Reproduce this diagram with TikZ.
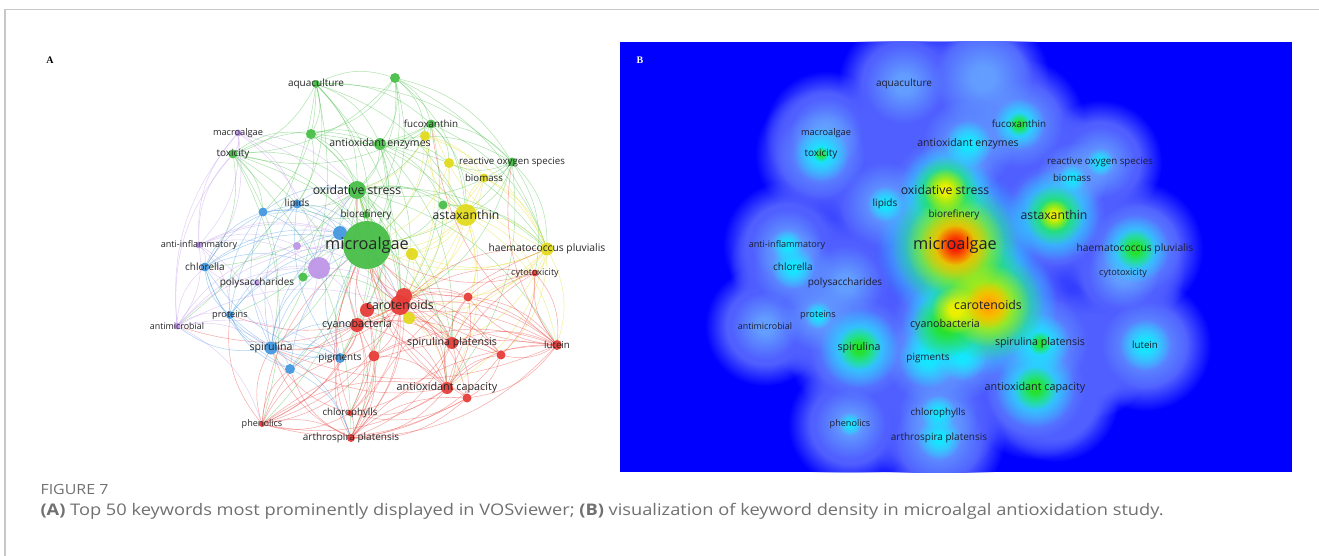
\documentclass[tikz,border=0pt]{standalone}
\usepackage{fontspec}
\setmainfont{Open Sans}
\newfontfamily\panelfont{Liberation Serif}
\newfontfamily\capfont[FakeStretch=1.14]{Open Sans}
\usetikzlibrary{fadings}

% cluster colours of the network
\definecolor{kred}{RGB}{231,60,56}
\definecolor{kgreen}{RGB}{72,190,72}
\definecolor{kblue}{RGB}{66,152,224}
\definecolor{kyellow}{RGB}{226,218,30}
\definecolor{kpurple}{RGB}{190,150,232}
% density colours
\definecolor{dblue}{RGB}{0,0,255}
\definecolor{dhaloA}{RGB}{80,95,255}
\definecolor{dhaloB}{RGB}{100,160,255}
\definecolor{dcyan}{RGB}{20,232,255}
\definecolor{dgreen}{RGB}{40,225,40}
\definecolor{dyellow}{RGB}{240,240,0}
\definecolor{dorange}{RGB}{255,165,0}
\definecolor{dred}{RGB}{245,25,0}
\definecolor{framegray}{RGB}{200,200,200}
\definecolor{capgray}{RGB}{112,112,112}
\definecolor{maptext}{RGB}{30,30,50}

% soft spots for the density map
\pgfdeclareradialshading{softshade}{\pgfpointorigin}{color(0bp)=(pgftransparent!0); color(6bp)=(pgftransparent!5); color(25bp)=(pgftransparent!100); color(50bp)=(pgftransparent!100)}
\pgfdeclarefading{soft}{\pgfuseshading{softshade}}
\pgfdeclareradialshading{wideshade}{\pgfpointorigin}{color(0bp)=(pgftransparent!0); color(16bp)=(pgftransparent!0); color(25bp)=(pgftransparent!100); color(50bp)=(pgftransparent!100)}
\pgfdeclarefading{wide}{\pgfuseshading{wideshade}}

\tikzset{
  dot/.style={circle, inner sep=0pt, minimum size=#1, fill opacity=.95},
  kw/.style={inner sep=0pt, text=black!85},
  link/.style={line width=.55pt, draw opacity=.42, bend left=22},
  blob/.style={fill=#1, path fading=soft},
  halo/.style={fill=#1, path fading=wide},
}
\pgfdeclarelayer{edges}
\pgfsetlayers{edges,main}

% name/x/y/diameter/colour/font size/label
\def\keywords{%
  aqu/316/84/8/kgreen/10/aquaculture,
  fuc/431/124/9/kgreen/9.8/fucoxanthin,
  mac/238/133/7/kpurple/9.2/macroalgae,
  tox/233/154/9/kgreen/10/toxicity,
  aoe/380/144/12/kgreen/10.5/antioxidant enzymes,
  ros/512/162/9/kgreen/9.7/reactive oxygen species,
  bms/484/178/9/kyellow/9.7/biomass,
  oxs/357/190/18/kgreen/12.3/oxidative stress,
  lip/297/204/9/kblue/10/lipids,
  brf/366/215/7/kgreen/10/biorefinery,
  ast/466/215/22/kyellow/12.2/astaxanthin,
  ain/199/245/7/kpurple/9.1/anti-inflammatory,
  mic/367/245/48/kgreen/16.3/microalgae,
  hae/547/249/13/kyellow/10.3/haematococcus pluvialis,
  clo/205/267/9/kblue/10/chlorella,
  cyt/535/273/7/kred/9.1/cytotoxicity,
  pol/257/283/6/kpurple/10/polysaccharides,
  car/400/305/20/kred/12.3/carotenoids,
  pro/230/315/8/kblue/9.2/proteins,
  amb/177/326/7/kpurple/8.9/antimicrobial,
  cya/357/325/14/kred/10.7/cyanobacteria,
  spp/452/343/12/kred/10.6/spirulina platensis,
  lut/557/345/10/kred/9.7/lutein,
  spi/271/348/13/kblue/10.6/spirulina,
  pig/340/358/10/kblue/9.9/pigments,
  aoc/447/388/12/kred/10.8/antioxidant capacity,
  chl/350/413/6/kred/9.7/chlorophylls,
  phe/262/424/6/kred/9.1/phenolics,
  art/351/438/8/kred/10/arthrospira platensis}
% items whose labels are hidden
\def\unlabelled{%
  g1/395/78/10/kgreen, g2/311/134/10/kgreen, y1/425/136/10/kyellow,
  y2/449/163/10/kyellow, g3/443/205/9/kgreen, b1/263/212/9/kblue,
  b2/340/233/14/kblue, p1/297/246/8/kpurple, p2/319/268/22/kpurple,
  g4/303/277/9/kgreen, y3/412/254/12/kyellow, r1/404/296/16/kred,
  r2/367/310/14/kred, y4/409/318/12/kyellow, r3/374/356/11/kred,
  b3/290/369/10/kblue, r4/501/355/9/kred, r5/467/398/9/kred,
  r6/468/297/9/kred}

\begin{document}
\begin{tikzpicture}[x=1pt, y=-1pt]
\useasboundingbox (0,0) rectangle (1319,556);
\draw[framegray, line width=1.2pt] (5,556) -- (5,9.5) -- (1319,9.5);

%% (A) network
\node[font=\panelfont\bfseries\fontsize{10}{10}\selectfont] (pa) at (50,60) {A};

\foreach \n/\x/\y/\d/\c in \unlabelled
  \node[dot=\d, fill=\c] (\n) at (\x,\y) {};
\foreach \n/\x/\y/\d/\c/\s/\t in \keywords
  \node[dot=\d, fill=\c] (\n) at (\x,\y) {};
\foreach \n/\x/\y/\d/\c/\s/\t in \keywords
  \node[kw, font=\fontsize{\s}{\s}\selectfont] (\n-t) at (\x,\y) {\t};

\begin{pgfonlayer}{edges}
  % green cluster
  \foreach \a/\bs in {aqu/{mic,oxs,aoe,tox,g1,fuc,ast,lip,b1,g2,car,ros,spi,amb},
      g1/{mic,oxs,aoe,fuc,g2,ros,y1,ast,brf,hae,tox},
      fuc/{mic,oxs,aoe,ast,ros,tox,g2,y2,car,hae},
      tox/{mic,oxs,g2,aoe,cya,spi,spp,b1,clo,phe,art},
      g2/{mic,oxs,aoe,ast,lip,car},
      aoe/{mic,oxs,ast,car,ros,y2,spp,cya,hae,g3,pig},
      ros/{mic,oxs,ast,hae,car,aoc,y2,bms,cyt},
      oxs/{mic,ast,car,cya,spi,aoc,hae,spp,lip,pro,clo,chl,pig,b3,r3,art,phe,lut,g3,brf},
      g3/{mic,ast,car,hae}, brf/{mic,lip,car}, g4/{mic,oxs,car}}
    \foreach \b in \bs \draw[link, kgreen] (\a) to (\b);
  % yellow cluster
  \foreach \a/\bs in {ast/{mic,car,hae,bms,y2,spp,aoc,cyt,lut,cya,y1,r6,y3},
      y1/{mic,oxs,car,bms,hae}, y2/{mic,car,hae,bms}, bms/{mic,car,hae,y3},
      hae/{mic,car,spp,aoc,lut,cyt,r6,y4,y3,r4,fuc},
      y3/{mic,car,oxs}, y4/{mic,car,spp,aoc}}
    \foreach \b in \bs \draw[link, kyellow] (\a) to (\b);
  % red cluster
  \foreach \a/\bs in {car/{mic,cya,spp,aoc,lut,cyt,r6,r4,r5,art,chl,phe,pig,spi,r3,amb,pro,hae,oxs},
      cya/{mic,spp,aoc,art,chl,phe,pig,spi,lut,r4},
      spp/{mic,aoc,lut,r4,r5,art,chl,cyt,r6},
      aoc/{mic,lut,r4,r5,art,chl,phe,cyt,r6,spi},
      lut/{mic,r4,r5,art,cyt,r6,spi,ros,fuc},
      r1/{mic,aoc,spp,lut,r4,art,r6}, r2/{mic,aoc,spp,art,chl,phe},
      r3/{mic,aoc,art,chl,lut,phe,spp}, r4/{mic,art,r5}, r5/{mic,art,chl,phe},
      r6/{mic,cyt,lut,aoc}, cyt/{mic,r4,lut}, chl/{mic,art,spi,phe},
      phe/{mic,art,spi,pig,b3,pro,cya,aoc,lut}, art/{mic,spi,pig,b3,r5,lut,hae}}
    \foreach \b in \bs \draw[link, kred] (\a) to (\b);
  % blue cluster
  \foreach \a/\bs in {spi/{mic,pig,b3,pro,clo,lip,b1,b2,cya,art,amb,p2},
      b3/{mic,pig,pro,clo,cya,art}, pig/{mic,b2,pro,clo,lip},
      pro/{mic,clo,lip,b1,b2,p2}, clo/{mic,lip,b1,b2,p2},
      lip/{mic,b1,b2,oxs}, b1/{mic,b2,oxs,p2}, b2/{mic,oxs,car}}
    \foreach \b in \bs \draw[link, kblue] (\a) to (\b);
  % purple cluster
  \foreach \a/\bs in {ain/{mic,p2,p1,clo,pro,amb,mac,spi,b2,tox},
      amb/{mic,p2,p1,clo,pro,spi,phe,pig,car,mac,tox},
      mac/{mic,p2,tox,ain,clo,oxs,lip},
      p2/{mic,car,oxs,spi,cya}, p1/{mic,oxs,car}, pol/{mic,p2,spi,clo}}
    \foreach \b in \bs \draw[link, kpurple] (\a) to (\b);
\end{pgfonlayer}

%% (B) density
\begin{scope}[xshift=588pt]
  \foreach \n/\x/\y/\d/\c/\s/\t in \keywords
    \coordinate (\n-b) at (\x,\y);
  \foreach \n/\x/\y/\d/\c in \unlabelled
    \coordinate (\n-b) at (\x,\y);
\end{scope}
\begin{scope}
  \clip (620,42) rectangle (1292,472);
  \fill[dblue] (620,42) rectangle (1292,472);
  \foreach \n/\r in {aqu/66,fuc/66,mac/62,tox/66,aoe/66,ros/62,bms/62,oxs/84,
      lip/66,brf/66,ast/76,ain/64,mic/100,hae/68,clo/64,cyt/62,pol/64,car/94,
      pro/64,amb/60,cya/76,spp/68,lut/66,spi/72,pig/68,aoc/72,chl/64,phe/62,
      art/66,g1/66,r4/64,r5/64,b3/64,g2/64,y2/64}
    \fill[halo=dhaloA] (\n-b) circle (\r);
  \foreach \n/\r in {aqu/40,fuc/44,mac/36,tox/44,aoe/46,ros/36,bms/36,oxs/54,
      lip/42,brf/44,ast/52,ain/36,mic/76,hae/46,clo/40,cyt/36,pol/38,car/68,
      pro/36,amb/34,cya/54,spp/48,lut/44,spi/50,pig/44,aoc/50,chl/40,phe/36,
      art/44,g1/50,r3/44}
    \fill[blob=dhaloB] (\n-b) circle (\r);
  \foreach \n/\r in {tox/28,fuc/26,clo/22,ain/16,aoe/24,lut/26,spp/30,aoc/40,
      hae/34,ast/46,spi/40,oxs/46,mic/80,car/70,cya/44,pig/30,
      brf/30,chl/18,art/22,ros/14,bms/14,lip/18,pro/14,phe/12,r3/25}
    \fill[blob=dcyan] (\n-b) circle (\r);
  \foreach \n/\r in {mic/64,car/56,cya/34,oxs/34,ast/30,spi/22,aoc/22,hae/20,
      spp/12,fuc/12,tox/8}
    \fill[blob=dgreen] (\n-b) circle (\r);
  \foreach \n/\r in {mic/50,car/42,oxs/22,ast/16,r2/24}
    \fill[blob=dyellow] (\n-b) circle (\r);
  \foreach \n/\r in {mic/36,car/24}
    \fill[blob=dorange] (\n-b) circle (\r);
  \fill[blob=dred] (mic-b) circle (20);
\end{scope}
\begin{scope}[xshift=588pt]
  \foreach \n/\x/\y/\d/\c/\s/\t in \keywords
    \node[kw, text=maptext, font=\fontsize{\s}{\s}\selectfont] (\n-m) at (\x,\y) {\t};
\end{scope}
\node[text=white, font=\panelfont\bfseries\fontsize{10}{10}\selectfont] (pb) at (640,60) {B};

%% caption
\node[anchor=west, text=capgray, font=\capfont\fontsize{14}{14}\selectfont] (fig) at (37,489) {FIGURE 7};
\node[anchor=west, text=capgray, font=\capfont\fontsize{16}{16}\selectfont] (cap) at (37,511)
  {\textbf{(A)} Top 50 keywords most prominently displayed in VOSviewer; \textbf{(B)} visualization of keyword density in microalgal antioxidation study.};
\end{tikzpicture}
\end{document}
